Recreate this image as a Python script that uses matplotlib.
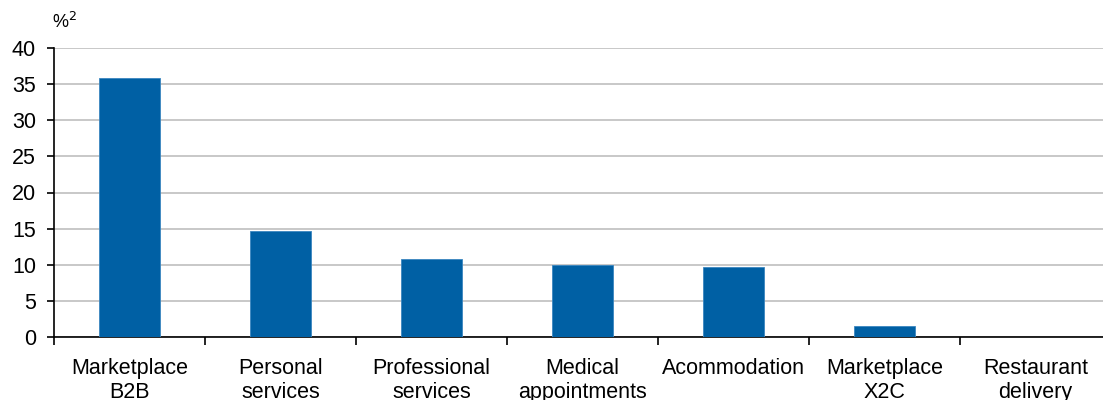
import matplotlib
matplotlib.use("Agg")
import matplotlib.pyplot as plt
import numpy as np

categories = ["Marketplace\nB2B", "Personal\nservices", "Professional\nservices",
              "Medical\nappointments", "Acommodation", "Marketplace\nX2C", "Restaurant\ndelivery"]
values = [35.9, 14.7, 10.8, 10.0, 9.7, 1.5, 0.0]
yticks = [0, 5, 10, 15, 20, 25, 30, 35, 40]

plt.rcParams['font.family'] = ['Liberation Sans', 'DejaVu Sans']

W, H = 1103, 400
fig = plt.figure(figsize=(W/100, H/100), dpi=100)
left, right, bottom, top = 54, 1111, 337, 48
ax = fig.add_axes([left/W, 1 - bottom/H, (right-left)/W, (bottom-top)/H])

x = np.arange(len(categories))
ax.bar(x, values, width=0.4, color="#0060A4", edgecolor="#3a86c0", linewidth=0.6, zorder=3)
ax.set_xlim(-0.5, len(categories) - 0.5)
ax.set_ylim(0, 40)
ax.set_yticks(yticks)
ax.set_yticklabels([str(v) for v in yticks], fontsize=15.5)
ax.yaxis.grid(True, color="#BFBFBF", linewidth=1.2, zorder=0)
ax.set_axisbelow(True)

ax.set_xticks(x)
ax.set_xticklabels(categories, fontsize=15.5, linespacing=1.22)
ax.set_xticks(np.arange(len(categories) + 1) - 0.5, minor=True)
ax.tick_params(axis='x', which='major', length=0, pad=15)
ax.tick_params(axis='x', which='minor', length=6, width=1.2, color='black')
ax.tick_params(axis='y', length=5, width=1.2, color='black', pad=8)

for s in ['top', 'right']:
    ax.spines[s].set_visible(False)
for s in ['left', 'bottom']:
    ax.spines[s].set_color('black')
    ax.spines[s].set_linewidth(1.2)

fig.text(52/W, 1 - 22/H, "%$^2$", fontsize=13, ha='left', va='center')

fig.savefig("out.png", dpi=100)
